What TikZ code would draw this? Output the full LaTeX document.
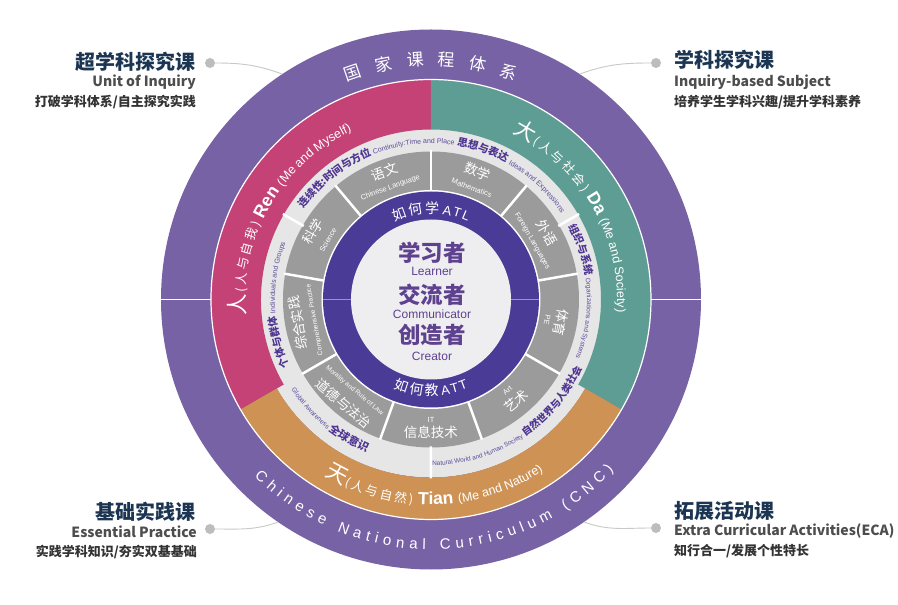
\documentclass[tikz,border=0pt]{standalone}
\usepackage{fontspec}
\setmainfont{Liberation Sans}
\newfontfamily\cjk{Noto Sans CJK SC}
\usetikzlibrary{decorations.text}
\definecolor{outerP}{HTML}{7862A6}
\definecolor{pinkR}{HTML}{C44275}
\definecolor{tealD}{HTML}{5E9D93}
\definecolor{orangeT}{HTML}{CD9254}
\definecolor{atlP}{HTML}{4A3C96}
\definecolor{secG}{HTML}{9B9B9B}
\definecolor{ringL}{HTML}{E6E6E6}
\definecolor{coreL}{HTML}{EEEEF0}
\definecolor{coreT}{HTML}{5E418F}
\definecolor{themeT}{HTML}{4F3592}
\definecolor{themeE}{HTML}{5C4A9A}
\definecolor{navyH}{HTML}{1B3552}
\definecolor{grayE}{HTML}{4D4D4D}
\definecolor{grayS}{HTML}{333333}
\definecolor{dotG}{HTML}{BDBDBD}
\definecolor{lineG}{HTML}{C8C8C8}
\newcommand\fs[1]{\fontsize{#1}{#1}\selectfont}
\newcommand\annulus[5]{\fill[#1] (#2:#5pt) arc[start angle=#2,end angle=#3,radius=#5pt] -- (#3:#4pt) arc[start angle=#3,end angle=#2,radius=#4pt] -- cycle;}
\newcommand\arctext[5]{\path[decorate,decoration={text along path,text align=center,#4,text={#5}}] (#1:#3pt) arc[start angle=#1,end angle=#2,radius=#3pt];}
\tikzset{
  seczh/.style={font=\cjk\fs{13.5},text=white,inner sep=0pt},
  secen/.style={font=\fs{7.4},text=white,inner sep=0pt},
  ctzh/.style={font=\cjk\bfseries\fs{22.5},text=coreT,inner sep=0pt},
  cten/.style={font=\fs{12},text=coreT,inner sep=0pt},
  gjzh/.style={font=\cjk\fs{17},text=white,inner sep=0pt},
  hd/.style={font=\cjk\bfseries\fs{20},text=navyH,inner sep=0pt},
  hen/.style={font=\cjk\bfseries\fs{14},text=grayE,inner sep=0pt},
  hsub/.style={font=\cjk\bfseries\fs{13},text=grayS,inner sep=0pt},
  cdot/.style={circle,fill=dotG,minimum size=10pt,inner sep=0pt},
  conn/.style={draw=lineG,line width=0.9pt}
}
\begin{document}
\begin{tikzpicture}[x=1pt,y=1pt]
\useasboundingbox (-431,-305.5) rectangle (467,299.5);
\fill[white] (-431,-305.5) rectangle (467,299.5);
% outer ring
\fill[outerP] (0,0) circle[radius=270pt];
\draw[white,line width=1.5pt] (180:219pt) -- (180:271pt) (0:219pt) -- (0:271pt);
% theme ring base
\fill[ringL] (0,0) circle[radius=178pt];
\annulus{pinkR}{90}{210}{170}{220}
\annulus{tealD}{-30}{90}{170}{220}
\annulus{orangeT}{210}{330}{178}{220}
\draw[white,line width=1.2pt] (0,0) circle[radius=220pt];
% subject sectors
\fill[secG] (0,0) circle[radius=148pt];
\foreach \a in {90,50,...,-230} \draw[white,line width=2.5pt] (\a:106pt) -- (\a:149pt);
\draw[white,line width=2.5pt] (150:147pt) -- (150:171pt) (30:147pt) -- (30:171pt) (270:147pt) -- (270:179pt);
% ATL ring and core
\fill[white] (0,0) circle[radius=109.5pt];
\fill[atlP] (0,0) circle[radius=108pt];
\draw[secG,line width=1pt] (0:80pt) -- (0:108pt) (180:80pt) -- (180:108pt);
\fill[coreL] (0,0) circle[radius=80pt];
% core texts
\node[ctzh] (czh1) at (1,46.5) {学习者};
\node[cten] (cen1) at (1,28.5) {Learner};
\node[ctzh] (czh2) at (1,4.5) {交流者};
\node[cten] (cen2) at (1,-14.5) {Communicator};
\node[ctzh] (czh3) at (1,-35.5) {创造者};
\node[cten] (cen3) at (1,-56.5) {Creator};
% ATL / ATT
\arctext{180}{0}{86}{text color=white}{|\cjk\fs{14}|{如\kern2pt}{何\kern2pt}学 |\rmfamily\fs{13}|{A\kern1.5pt}{T\kern1.5pt}L}
\arctext{180}{360}{96}{text color=white}{|\cjk\fs{14}|{如\kern2pt}{何\kern2pt}教 |\rmfamily\fs{13}|{A\kern1.5pt}{T\kern1.5pt}T}
% subjects
\node[seczh,rotate=20] (s1z) at (110:136pt) {语文};
\node[secen,rotate=20] (s1e) at (110:119pt) {Chinese Language};
\node[seczh,rotate=-20] (s2z) at (70:136pt) {数学};
\node[secen,rotate=-20] (s2e) at (70:119pt) {Mathematics};
\node[seczh,rotate=-60] (s3z) at (30:134pt) {外语};
\node[secen,rotate=-60] (s3e) at (30:117pt) {Foreign Languages};
\node[seczh,rotate=-100] (s4z) at (-10:132pt) {体育};
\node[secen,rotate=-100] (s4e) at (-10:118pt) {PE};
\node[seczh,rotate=40] (s5z) at (-50:133pt) {艺术};
\node[secen,rotate=40] (s5e) at (-50:119pt) {Art};
\node[seczh,rotate=0] (s6z) at (-90:133pt) {信息技术};
\node[secen,rotate=0] (s6e) at (-90:120pt) {IT};
\node[seczh,rotate=-40] (s7z) at (-130:136pt) {道德与法治};
\node[secen,font=\fs{6.6},rotate=-40] (s7e) at (-130:119pt) {Morality and Rule of Law};
\node[seczh,rotate=100] (s8z) at (190:135pt) {综合实践};
\node[secen,font=\fs{6.6},rotate=100] (s8e) at (190:118pt) {Comprehensive Practice};
\node[seczh,rotate=60] (s9z) at (150:136pt) {科学};
\node[secen,rotate=60] (s9e) at (150:119pt) {Science};
% themes
\arctext{203}{23}{156}{text color=themeT}{|\cjk\bfseries\fs{10.5}|连续性:时间与方位 |\rmfamily\fs{7}\color{themeE}|Continuity:Time and Place}
\arctext{147}{-33}{156}{text color=themeT}{|\cjk\bfseries\fs{10.5}|思想与表达 |\rmfamily\fs{7.2}\color{themeE}|Ideas and Expressions}
\arctext{93}{-87}{156}{text color=themeT}{|\cjk\bfseries\fs{10.5}|组织与系统 |\rmfamily\fs{6.6}\color{themeE}|Organizations and Systems}
\arctext{272}{92}{156}{text color=themeT}{|\cjk\bfseries\fs{10.5}|个体与群体 |\rmfamily\fs{7}\color{themeE}|Individuals and Groups}
\arctext{-147}{33}{166}{text color=themeT}{|\rmfamily\fs{6.4}\color{themeE}|Natural World and Human Society |\cjk\bfseries\fs{10}|自然世界与人类社会}
\arctext{140}{320}{166}{text color=themeT}{|\rmfamily\fs{6.6}\color{themeE}|Global Awareness |\cjk\bfseries\fs{11}|全球意识}
% colored ring labels
\arctext{240}{60}{186}{text color=white}{|\cjk\fs{21.5}|{人\kern1pt}|\cjk\fs{12.5}|{(\kern2.5pt}{人\kern2.5pt}{与\kern2.5pt}{自\kern2.5pt}{我\kern2.5pt}{)\kern5pt}|\rmfamily\bfseries\fs{17.5}|Ren |\rmfamily\fs{12.5}|(Me and Myself)}
\arctext{120}{-60}{186}{text color=white}{|\cjk\fs{21.5}|{大\kern1pt}|\cjk\fs{12.5}|{(\kern2.5pt}{人\kern2.5pt}{与\kern2.5pt}{社\kern2.5pt}{会\kern2.5pt}{)\kern5pt}|\rmfamily\bfseries\fs{17.5}|Da |\rmfamily\fs{12.5}|(Me and Society)}
\arctext{181}{361}{205}{text color=white}{|\cjk\fs{21.5}|{天\kern1pt}|\cjk\fs{12.5}|{(\kern2.5pt}{人\kern2.5pt}{与\kern2.5pt}{自\kern2.5pt}{然\kern2.5pt}{)\kern5pt}|\rmfamily\bfseries\fs{17.5}|Tian |\rmfamily\fs{12.5}|(Me and Nature)}
% outer ring labels
\foreach \c [count=\i from 0, evaluate=\i as \ang using 109-7.6*\i] in {国,家,课,程,体,系}
  \node[gjzh,rotate={\ang-90}] (g\i) at (\ang:240pt) {\c};
\path[decorate,decoration={text along path,text align={fit to path},text color=white,text={|\fs{15}|Chinese National Curriculum (CNC)}}] (225:250pt) arc[start angle=225,end angle=317,radius=250pt];
% corner labels
\node[hd,anchor=east] (tlH) at (-235,237.5) {超学科探究课};
\node[hen,anchor=east] (tlE) at (-235,217.5) {Unit of Inquiry};
\node[hsub,anchor=east] (tlS) at (-235,197.5) {打破学科体系/自主探究实践};
\node[hd,anchor=west] (trH) at (243,239.5) {学科探究课};
\node[hen,anchor=west] (trE) at (243,217.5) {Inquiry-based Subject};
\node[hsub,anchor=west] (trS) at (243,197.5) {培养学生学科兴趣/提升学科素养};
\node[hd,anchor=east] (blH) at (-235,-212.5) {基础实践课};
\node[hen,anchor=east] (blE) at (-234,-232.5) {Essential Practice};
\node[hsub,anchor=east] (blS) at (-234,-252.5) {实践学科知识/夯实双基基础};
\node[hd,anchor=west] (brH) at (243,-211.5) {拓展活动课};
\node[hen,anchor=west] (brE) at (243,-231.5) {Extra Curricular Activities(ECA)};
\node[hsub,anchor=west] (brS) at (243,-251.5) {知行合一/发展个性特长};
% dots and connectors
\node[cdot] (tlD) at (-221,236.5) {};
\node[cdot] (trD) at (225,236.5) {};
\node[cdot] (blD) at (-221,-229.5) {};
\node[cdot] (brD) at (225,-228.5) {};
\coordinate (tlC) at (123.4:270pt);
\coordinate (trC) at (56.6:270pt);
\coordinate (blC) at (235.5:270pt);
\coordinate (brC) at (-55.5:270pt);
\draw[conn] (tlD) to[out=0,in=160] (tlC);
\draw[conn] (trD) to[out=180,in=20] (trC);
\draw[conn] (blD) to[out=0,in=200] (blC);
\draw[conn] (brD) to[out=180,in=-20] (brC);
\end{tikzpicture}
\end{document}
